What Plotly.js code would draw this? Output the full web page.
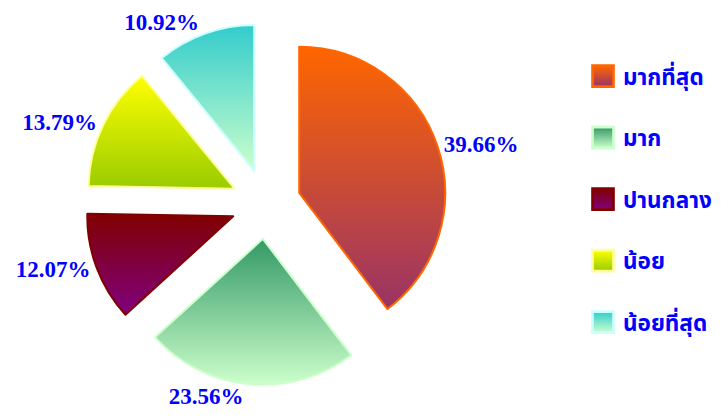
<!DOCTYPE html>
<html><head><meta charset="utf-8">
<script src="https://cdn.plot.ly/plotly-3.0.1.min.js"></script>
<style>html,body{margin:0;padding:0;background:#fff}</style>
</head><body>
<div id="chart" style="width:728px;height:418px"></div>
<script>
const categories = ['มากที่สุด', 'มาก', 'ปานกลาง', 'น้อย', 'น้อยที่สุด'];
const percentValues = [39.66, 23.56, 12.07, 13.79, 10.92];
const gradientTop = ['#FF6600', '#339966', '#800000', '#FFFF00', '#33CCCC'];
const gradientBottom = ['#993366', '#CCFFCC', '#800080', '#99CC00', '#CCFFCC'];
const borderColors = ['#FF6600', '#CCFFCC', '#800000', '#FFFF99', '#CCFFFF'];

const trace = {
  type: 'pie',
  labels: categories.map(c => c + '<br> '),
  values: percentValues,
  sort: false,
  direction: 'clockwise',
  rotation: 0,
  pull: 0.24,
  hole: 0,
  textposition: 'outside',
  texttemplate: '%{value:.2f}%',
  textfont: {family: 'Liberation Serif, Times New Roman, serif', size: 23, color: '#0000FF', weight: 'bold'},
  marker: {colors: gradientTop, line: {color: borderColors, width: 2}},
  domain: {x: [0.1168, 0.6140], y: [0.0790, 0.9450]},
  hoverinfo: 'skip'
};

const layout = {
  width: 728, height: 418,
  margin: {l: 0, r: 0, t: 0, b: 0},
  paper_bgcolor: '#FFFFFF',
  showlegend: true,
  legend: {
    x: 583/728, xanchor: 'left', y: 1 - 55/418, yanchor: 'top',
    valign: 'top',
    font: {family: 'Tahoma, Noto Sans Thai, Loma, Garuda, DejaVu Sans, sans-serif', size: 22.5, color: '#0000FF', weight: 'bold'},
    bgcolor: 'rgba(0,0,0,0)'
  }
};

Plotly.newPlot('chart', [trace], layout, {staticPlot: true, displayModeBar: false}).then(gd => {
  const svg = gd.querySelector('.main-svg');
  const ns = 'http://www.w3.org/2000/svg';
  let defs = svg.querySelector('defs');
  if (!defs) { defs = document.createElementNS(ns, 'defs'); svg.insertBefore(defs, svg.firstChild); }
  categories.forEach((c, i) => {
    const g = document.createElementNS(ns, 'linearGradient');
    g.setAttribute('id', 'sliceGrad' + i);
    g.setAttribute('x1', '0'); g.setAttribute('y1', '0');
    g.setAttribute('x2', '0'); g.setAttribute('y2', '1');
    [[0, gradientTop[i]], [1, gradientBottom[i]]].forEach(([o, col]) => {
      const s = document.createElementNS(ns, 'stop');
      s.setAttribute('offset', o); s.setAttribute('stop-color', col);
      g.appendChild(s);
    });
    defs.appendChild(g);
  });
  gd.querySelectorAll('g.slice').forEach((sl, i) => {
    const p = sl.querySelector('path.surface');
    if (p) p.style.fill = 'url(#sliceGrad' + i + ')';
  });
  gd.querySelectorAll('.legend g.traces').forEach((tr, i) => {
    const p = tr.querySelector('path.legendpie');
    if (p) {
      p.style.fill = 'url(#sliceGrad' + i + ')';
      const t = p.getAttribute('transform') || '';
      p.setAttribute('transform', t + ' scale(1.75)');
      p.style.strokeWidth = '1.5px';
    }
  });
});
</script>
</body></html>
